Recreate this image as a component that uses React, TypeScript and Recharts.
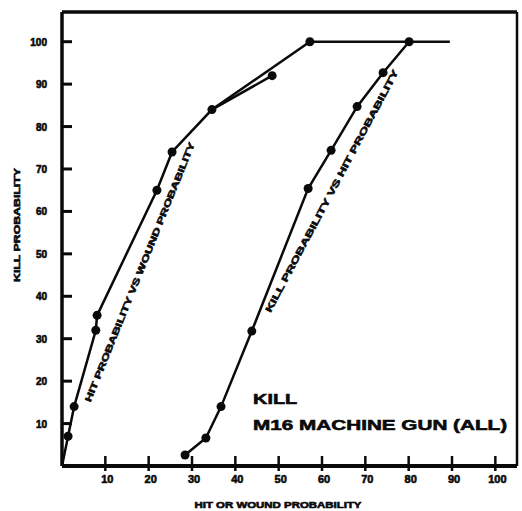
import { LineChart, Line, XAxis, YAxis, ReferenceLine, ReferenceDot } from 'recharts';

// kill probability vs wound probability (left curve)
const woundX = [0, 1.4, 2.8, 7.8, 8.1, 21.9, 25.4, 34.6, 48.5];
const woundY = [0, 7, 14, 32, 35.5, 65, 74, 84, 92];

// upper branch of the left curve that joins the 100% plateau
const upperX = [34.6, 57.2, 80.1, 89.5];
const upperY = [84, 100, 100, 100];

// kill probability vs hit probability (right curve)
const hitX = [28.4, 33.2, 36.7, 43.8, 56.8, 62.1, 68.1, 74.1, 80.1];
const hitY = [2.6, 6.6, 14, 31.8, 65.4, 74.4, 84.7, 92.7, 100];

const xTicks = [10, 20, 30, 40, 50, 60, 70, 80, 90, 100];
const yTicks = [10, 20, 30, 40, 50, 60, 70, 80, 90, 100];

const toRows = (xs: number[], ys: number[]) => xs.map((x, i) => ({ x, y: ys[i] }));

const woundData = toRows(woundX, woundY);
const upperData = toRows(upperX, upperY);
const hitData = toRows(hitX, hitY);

const FONT = '"Liberation Sans", Arial, sans-serif';
const INK = '#0a0a0a';

// scanned print looks heavy, so thicken glyphs a little
const heavy = { fontFamily: FONT, fontWeight: 900, fill: INK, stroke: INK, strokeWidth: 0.6 };

function dotsAt(keep: number[]) {
  return (p: any) => {
    if (!keep.includes(p.index)) return <g key={`n${p.index}`} />;
    return <circle key={`d${p.index}`} cx={p.cx} cy={p.cy} r={4.5} fill={INK} />;
  };
}

function YTick({ x, y, payload }: any) {
  return (
    <g>
      <line x1={x + 15} x2={x + 25} y1={y} y2={y} stroke={INK} strokeWidth={3} />
      <text x={x} y={y} dy={4} textAnchor="end" fontSize={10} {...heavy}>
        {payload.value}
      </text>
    </g>
  );
}

function XTick({ x, y, payload }: any) {
  return (
    <g>
      <line x1={x} x2={x} y1={y - 14} y2={y + 1} stroke={INK} strokeWidth={2.5} />
      <text x={x + 2} y={y} dy={13} textAnchor="middle" fontSize={11} {...heavy}>
        {payload.value}
      </text>
    </g>
  );
}

function rotated(text: string, angle: number, length: number, size: number) {
  return ({ viewBox }: any) => {
    const cx = viewBox.x + viewBox.width / 2;
    const cy = viewBox.y + viewBox.height / 2;
    return (
      <text
        x={cx}
        y={cy}
        textAnchor="middle"
        dominantBaseline="central"
        transform={`rotate(${angle} ${cx} ${cy})`}
        fontSize={size}
        textLength={length}
        lengthAdjust="spacingAndGlyphs"
        {...heavy}
      >
        {text}
      </text>
    );
  };
}

function plain(text: string, length: number, size: number) {
  return ({ viewBox }: any) => (
    <text
      x={viewBox.x + viewBox.width / 2}
      y={viewBox.y + viewBox.height / 2}
      fontSize={size}
      textLength={length}
      lengthAdjust="spacingAndGlyphs"
      {...heavy}
    >
      {text}
    </text>
  );
}

function YLabel({ viewBox }: any) {
  const cx = viewBox.x + 17;
  const cy = viewBox.y + 213;
  return (
    <text
      x={cx}
      y={cy}
      textAnchor="middle"
      dominantBaseline="central"
      transform={`rotate(-90 ${cx} ${cy})`}
      fontSize={9}
      textLength={114}
      lengthAdjust="spacingAndGlyphs"
      {...heavy}
    >
      KILL PROBABILITY
    </text>
  );
}

function XLabel({ viewBox }: any) {
  return (
    <text
      x={viewBox.x + 216}
      y={viewBox.y + 42}
      textAnchor="middle"
      fontSize={9}
      textLength={167}
      lengthAdjust="spacingAndGlyphs"
      {...heavy}
    >
      HIT OR WOUND PROBABILITY
    </text>
  );
}

export default function App() {
  return (
    <div style={{ position: 'absolute', left: 0, top: 0, width: 522, height: 511, background: '#fff' }}>
      <LineChart width={522} height={511} margin={{ top: 12, right: 5, bottom: 0, left: 0 }}>
        <XAxis
          type="number"
          dataKey="x"
          domain={[0, 105]}
          ticks={xTicks}
          height={45}
          tickSize={0}
          tickMargin={4}
          tickLine={false}
          axisLine={{ stroke: INK, strokeWidth: 4 }}
          tick={<XTick />}
          label={{ content: XLabel }}
          allowDuplicatedCategory={false}
        />
        <YAxis
          type="number"
          dataKey="y"
          domain={[0, 107]}
          ticks={yTicks}
          width={62}
          tickSize={0}
          tickMargin={15}
          tickLine={false}
          axisLine={{ stroke: INK, strokeWidth: 3.5 }}
          tick={<YTick />}
          label={{ content: YLabel }}
        />
        <ReferenceLine y={107} stroke={INK} strokeWidth={3.5} />
        <ReferenceLine x={105} stroke={INK} strokeWidth={2.5} />

        <Line data={woundData} dataKey="y" type="linear" stroke={INK} strokeWidth={2.5} dot={dotsAt([1, 2, 3, 4, 5, 6, 7, 8])} isAnimationActive={false} />
        <Line data={upperData} dataKey="y" type="linear" stroke={INK} strokeWidth={2.5} dot={dotsAt([1])} isAnimationActive={false} />
        <Line data={hitData} dataKey="y" type="linear" stroke={INK} strokeWidth={2.5} dot={dotsAt([0, 1, 2, 3, 4, 5, 6, 7, 8])} isAnimationActive={false} />

        <ReferenceDot x={18} y={45.7} r={1} fill="none" stroke="none" label={{ content: rotated('HIT PROBABILITY VS WOUND PROBABILITY', -68, 279, 9) }} />
        <ReferenceDot x={62.3} y={64.8} r={1} fill="none" stroke="none" label={{ content: rotated('KILL PROBABILITY VS HIT PROBABILITY', -62, 273, 9) }} />
        <ReferenceDot x={44.1} y={14.5} r={1} fill="none" stroke="none" label={{ content: plain('KILL', 44, 15) }} />
        <ReferenceDot x={44.1} y={8.6} r={1} fill="none" stroke="none" label={{ content: plain('M16 MACHINE GUN (ALL)', 254, 15) }} />
      </LineChart>
    </div>
  );
}
